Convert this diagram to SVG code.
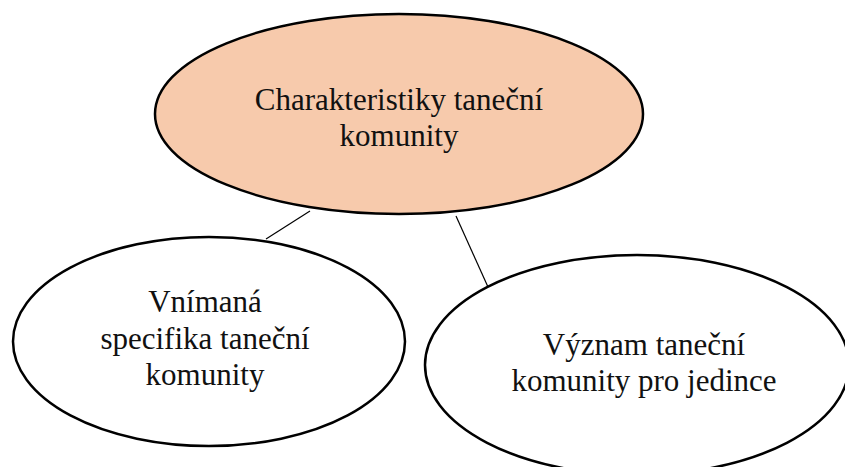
<svg xmlns="http://www.w3.org/2000/svg" width="845" height="467" viewBox="0 0 845 467">
  <style>
    .node { stroke: #000; stroke-width: 2.5; }
    .root { fill: #F7CAAC; }
    .leaf { fill: #fff; }
    .label { font-family: "Liberation Serif", "Times New Roman", serif; font-size: 31px; fill: #111; text-anchor: middle; }
    .link { stroke: #000; stroke-width: 1.2; fill: none; }
  </style>
  <rect width="845" height="467" fill="#fff"/>

  <!-- connectors -->
  <g id="connectors">
    <line class="link" x1="310" y1="211" x2="266" y2="239"/>
    <line class="link" x1="456" y1="216" x2="488" y2="287"/>
  </g>

  <!-- root node -->
  <g id="node-charakteristiky">
    <ellipse class="node root" cx="399" cy="114" rx="244" ry="100"/>
    <text class="label" x="399" y="110">Charakteristiky taneční</text>
    <text class="label" x="399" y="146">komunity</text>
  </g>

  <!-- left child -->
  <g id="node-specifika">
    <ellipse class="node leaf" cx="209" cy="341.5" rx="196" ry="104.5"/>
    <text class="label" x="205" y="312">Vnímaná</text>
    <text class="label" x="205" y="349">specifika taneční</text>
    <text class="label" x="205" y="385">komunity</text>
  </g>

  <!-- right child -->
  <g id="node-vyznam">
    <ellipse class="node leaf" cx="637" cy="365" rx="212" ry="110"/>
    <text class="label" x="644" y="355">Význam taneční</text>
    <text class="label" x="644" y="391">komunity pro jedince</text>
  </g>
</svg>
